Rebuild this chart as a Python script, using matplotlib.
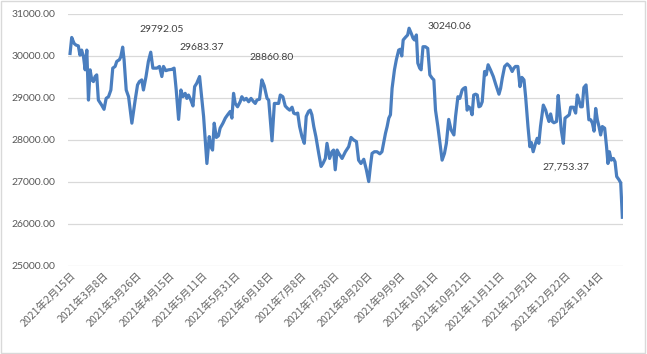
import matplotlib
matplotlib.use("Agg")
import matplotlib.pyplot as plt
from matplotlib.patches import Rectangle
from matplotlib.transforms import ScaledTranslation

# trading-day position and close value
day = [0.0, 0.7, 1.7, 2.5, 3.5, 4.2, 4.9, 5.7, 6.4, 7.1, 7.8, 8.5, 9.2, 9.9, 10.6,
       11.3, 12.0, 13.4, 14.4, 15.3, 16.3, 17.3, 18.1, 19.1, 19.8, 20.9, 21.5, 22.3,
       22.9, 23.8, 24.8, 26.2, 27.6, 28.6, 29.4, 30.4, 31.1, 32.2, 33.2, 34.2, 35.1,
       36.1, 36.8, 37.9, 38.9, 39.6, 40.6, 41.7, 43.1, 44.1, 45.0, 46.0, 47.0, 47.8,
       48.8, 49.5, 50.2, 51.2, 52.1, 52.8, 53.7, 54.9, 55.9, 56.6, 58.0, 59.0, 59.7,
       60.4, 61.1, 62.0, 62.9, 63.6, 64.8, 65.8, 66.8, 67.9, 68.6, 69.3, 70.0, 71.0,
       72.1, 72.8, 73.8, 74.7, 75.7, 76.7, 77.8, 78.5, 79.2, 80.3, 81.3, 82.3, 83.5,
       84.2, 84.9, 85.6, 86.6, 87.7, 88.4, 89.1, 90.2, 91.2, 92.2, 93.1, 94.1, 94.8,
       95.5, 96.5, 97.3, 98.3, 99.3, 100.1, 101.1, 101.8, 102.5, 103.3, 104.2, 105.4,
       106.4, 107.2, 108.2, 108.9, 110.0, 111.0, 111.7, 112.4, 113.2, 113.9, 115.3,
       116.7, 118.1, 119.1, 120.2, 121.4, 122.3, 123.3, 124.5, 125.6, 126.6, 127.3,
       128.0, 129.0, 130.1, 131.3, 132.2, 133.7, 134.4, 135.1, 135.8, 136.5, 137.5,
       138.3, 139.3, 140.0, 140.6, 141.2, 142.1, 143.1, 143.7, 144.6, 145.4, 146.0,
       146.8, 147.4, 148.2, 148.8, 149.6, 150.6, 151.6, 152.5, 153.5, 154.2, 154.9,
       155.9, 156.8, 157.7, 158.7, 159.5, 160.5, 161.5, 162.7, 163.4, 164.4, 165.2,
       166.2, 166.9, 167.6, 168.3, 169.0, 169.7, 170.4, 171.1, 171.9, 172.6, 173.3,
       174.0, 174.7, 175.7, 176.4, 177.2, 178.2, 179.4, 180.5, 181.8, 182.5, 183.2,
       184.2, 185.3, 186.4, 187.4, 188.1, 188.8, 189.8, 190.7, 191.5, 192.4, 193.1,
       194.1, 194.9, 195.5, 196.3, 197.3, 198.0, 198.7, 199.4, 200.6, 201.6, 202.3,
       203.0, 203.7, 204.4, 205.1, 206.2, 206.9, 207.6, 208.2, 209.1, 209.8, 210.7,
       211.6, 212.2, 213.3, 214.3, 215.0, 215.7, 216.4, 217.1, 217.8, 218.7, 219.2,
       219.9, 220.7, 221.4, 222.1, 222.8, 223.5, 224.2, 224.9, 225.6, 226.6, 227.4,
       228.0, 228.6, 229.4, 230.3, 231.0, 231.7, 232.7, 233.4, 234.1]
close = [30060, 30440, 30300, 30260, 30240, 30020, 30140, 29980, 29670, 30140, 28950,
         29670, 29430, 29390, 29510, 29550, 28950, 28830, 28730, 28990, 29030, 29190,
         29710, 29750, 29870, 29910, 29980, 30210, 29910, 29190, 29030, 28400, 28950,
         29310, 29390, 29430, 29190, 29510, 29870, 30090, 29710, 29710, 29710, 29750,
         29510, 29750, 29650, 29670, 29680, 29710, 29190, 28490, 29190, 29030, 29110,
         28990, 29070, 28950, 28810, 29270, 29350, 29510, 28950, 28560, 27440, 28080,
         27840, 27760, 28400, 28060, 28100, 28280, 28400, 28520, 28600, 28680, 28520,
         29110, 28870, 28790, 28910, 29030, 28950, 28990, 28910, 28990, 28910, 28870,
         28950, 28970, 29430, 29290, 28990, 28950, 28480, 27980, 28870, 28870, 28870,
         29070, 29030, 28810, 28750, 28710, 28780, 28640, 28620, 28640, 28320, 28080,
         27920, 28560, 28680, 28710, 28600, 28320, 28080, 27680, 27370, 27440, 27560,
         27920, 27560, 27720, 27760, 27290, 27760, 27680, 27560, 27720, 27840, 28060,
         28000, 27960, 27520, 27440, 27540, 27290, 27010, 27370, 27680, 27720, 27720,
         27670, 27720, 28160, 28320, 28520, 28600, 29230, 29670, 29910, 30140, 30160,
         30000, 30380, 30440, 30500, 30660, 30540, 30420, 30380, 30500, 29830, 29710,
         29670, 30220, 30220, 30180, 29550, 29470, 29430, 28710, 28320, 27920, 27520,
         27680, 27920, 28490, 28240, 28120, 28560, 29030, 28990, 29190, 29230, 29250,
         28710, 28790, 28750, 28600, 29070, 29090, 29070, 28790, 28810, 28910, 29630,
         29550, 29790, 29670, 29510, 29310, 29090, 29230, 29470, 29750, 29810, 29750,
         29630, 29710, 29750, 29750, 29270, 29490, 29430, 29030, 28320, 27840, 27940,
         27720, 27920, 28040, 27920, 28320, 28830, 28710, 28560, 28440, 28620, 28440,
         28410, 28440, 29060, 28640, 28240, 27920, 28520, 28560, 28600, 28780, 28780,
         28640, 29070, 28950, 28790, 28790, 29250, 29310, 28950, 28480, 28480, 28400,
         28210, 28750, 28480, 28320, 28120, 28320, 28280, 27840, 27440, 27720, 27520,
         27560, 27480, 27130, 27050, 26980, 26160]

tick_pos = list(range(0, 225, 14))
tick_labels = ["2021年2月15日", "2021年3月8日", "2021年3月26日", "2021年4月15日",
               "2021年5月11日", "2021年5月31日", "2021年6月18日", "2021年7月8日",
               "2021年7月30日", "2021年8月20日", "2021年9月9日", "2021年10月1日",
               "2021年10月21日", "2021年11月11日", "2021年12月2日", "2021年12月22日",
               "2022年1月14日"]
y_ticks = [25000, 26000, 27000, 28000, 29000, 30000, 31000]

notes = ["29792.05", "29683.37", "28860.80", "30240.06", "27,753.37"]
note_xy = [(39.0, 30640), (55.9, 30190), (85.6, 29970), (161.0, 30710), (210.2, 27360)]

fig = plt.figure(figsize=(6.47, 3.54), dpi=100)
ax = fig.add_axes([0.105, 0.2486, 0.858, 0.712])
fig.patches.append(Rectangle((0.002, 0.003), 0.995, 0.994, transform=fig.transFigure,
                             fill=False, edgecolor="#d9d9d9", linewidth=1))

ax.plot(day, close, color="#4a7ebf", linewidth=2.3, solid_joinstyle="round")

ax.set_ylim(25000, 31000)
ax.set_xlim(-0.9, 234.4)
ax.set_yticks(y_ticks)
ax.set_yticklabels([f"{v:.2f}" for v in y_ticks], fontfamily="Lato", fontsize=7.5,
                   color="#595959")
ax.set_xticks(tick_pos)
ax.set_xticklabels(tick_labels, rotation=45, ha="right", rotation_mode="anchor",
                   fontfamily=["Noto Sans CJK SC", "DejaVu Sans"], fontsize=7.6,
                   color="#666666")
shift = ScaledTranslation(4 / 100, 0, fig.dpi_scale_trans)
for lab in ax.get_xticklabels():
    lab.set_transform(lab.get_transform() + shift)
ax.tick_params(axis="both", length=0)
ax.tick_params(axis="y", pad=9)
ax.tick_params(axis="x", pad=3)
ax.grid(axis="y", color="#d9d9d9", linewidth=0.9)
ax.set_axisbelow(True)
for s in ax.spines.values():
    s.set_visible(False)

for txt, (x, y) in zip(notes, note_xy):
    ax.text(x, y, txt, ha="center", va="center", fontfamily="Lato", fontsize=7.5,
            color="#404040")

fig.savefig("out.png", dpi=100)
